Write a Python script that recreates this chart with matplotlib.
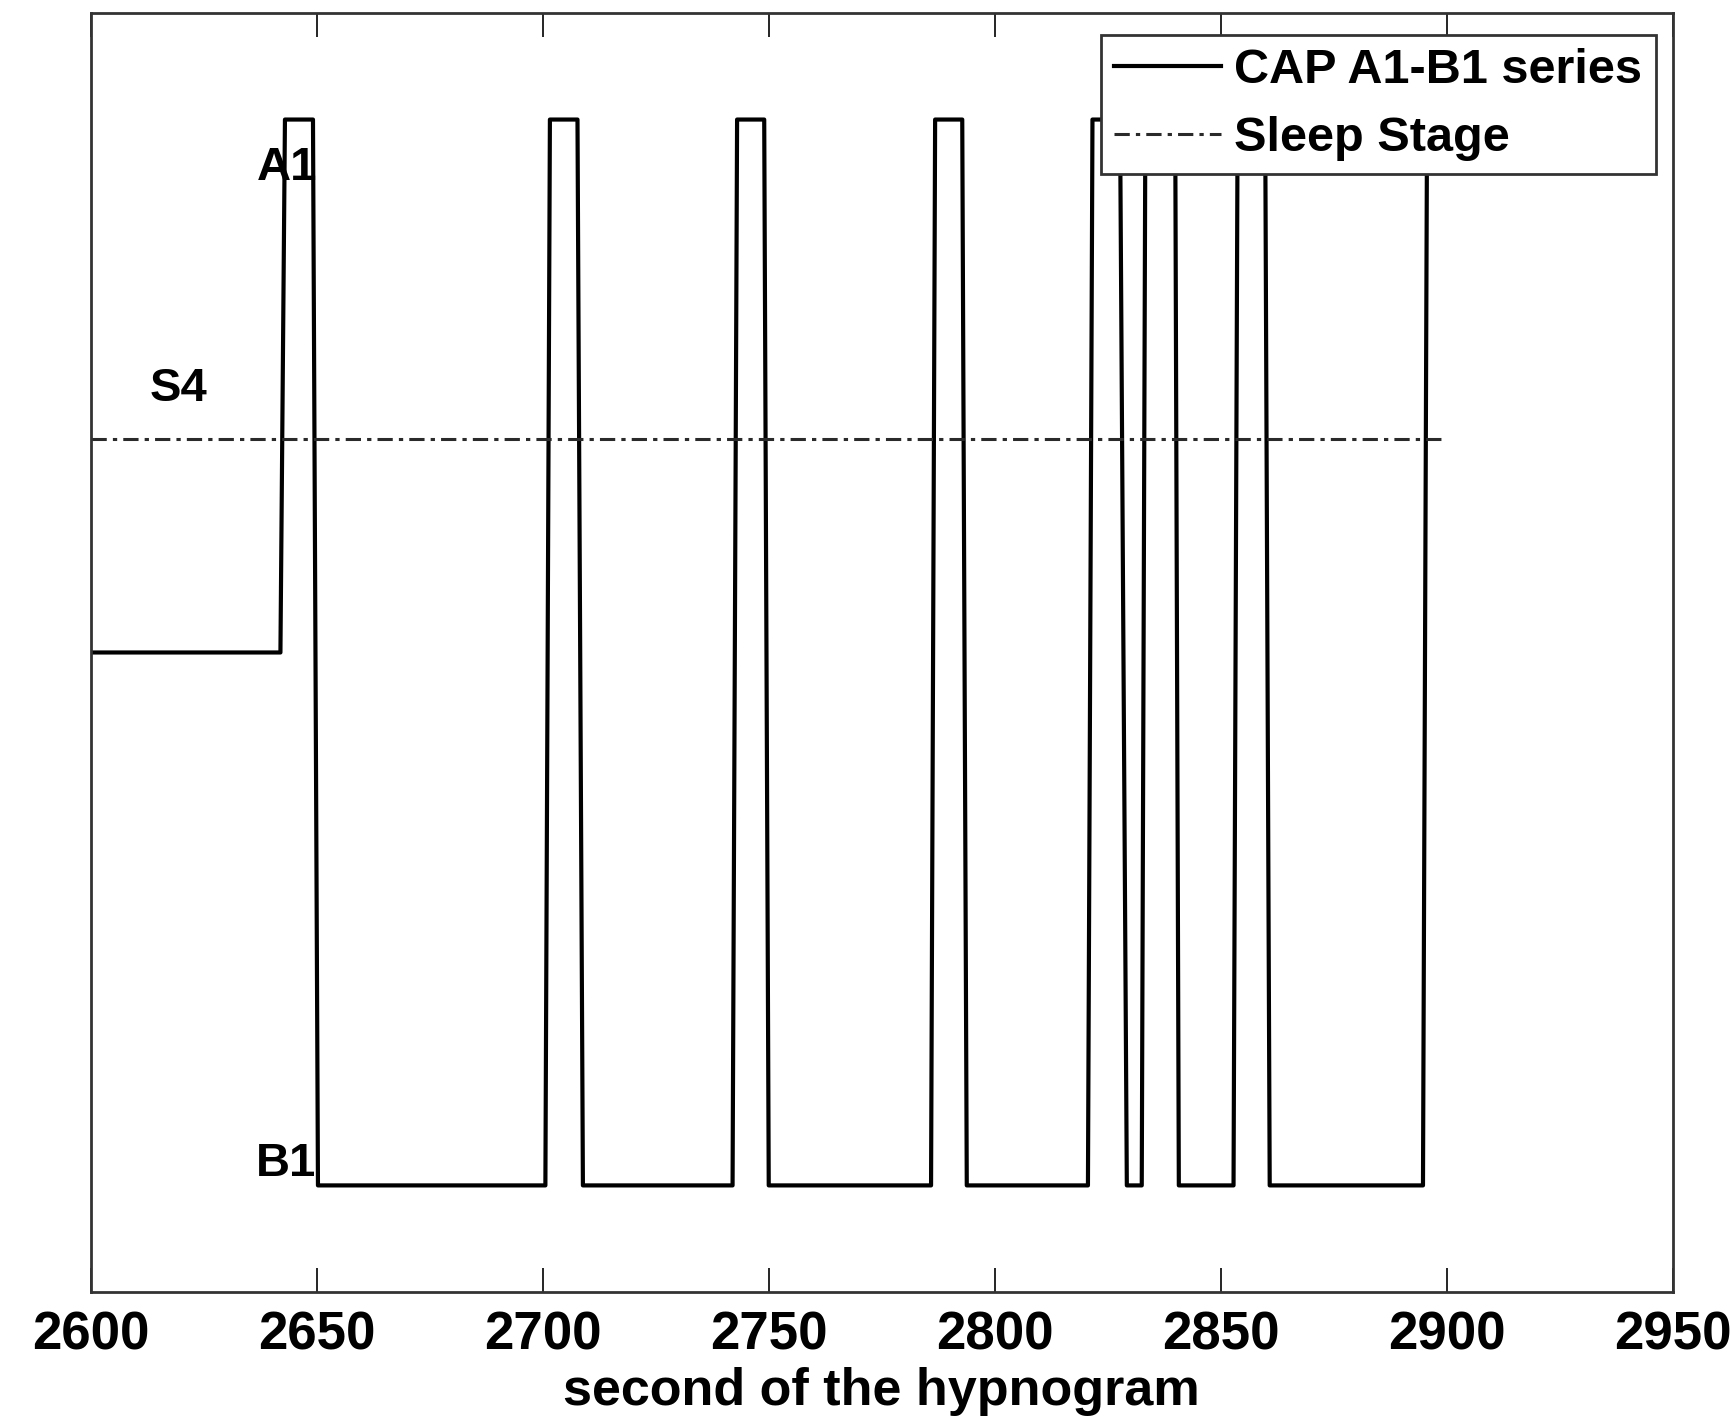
import matplotlib.pyplot as plt

# CAP A1-B1 series: (second, level) with B1 = 0, A1 = 1
cap_t = [2600, 2642, 2643, 2649.2, 2650.3,
         2700.6, 2701.6, 2707.7, 2708.9,
         2742.0, 2743.0, 2749.0, 2750.0,
         2785.9, 2786.8, 2792.8, 2793.8,
         2820.6, 2821.6, 2827.7, 2829.2,
         2832.5, 2833.3, 2839.9, 2840.7,
         2852.8, 2853.7, 2859.8, 2860.8,
         2894.7, 2895.6, 2900]
cap_y = [0.5, 0.5, 1, 1, 0,
         0, 1, 1, 0,
         0, 1, 1, 0,
         0, 1, 1, 0,
         0, 1, 1, 0,
         0, 1, 1, 0,
         0, 1, 1, 0,
         0, 1, 1]

stage_t = [2600, 2900]
stage_y = [0.7, 0.7]

xticks = [2600, 2650, 2700, 2750, 2800, 2850, 2900, 2950]

plt.rcParams['font.family'] = ['Liberation Sans', 'DejaVu Sans']
plt.rcParams['font.weight'] = 'bold'

fig = plt.figure(figsize=(17.31, 14.24), dpi=100)
ax = fig.add_axes([0.0523, 0.0927, 0.9142, 0.8982])

ax.plot(cap_t, cap_y, color='black', linewidth=3, label='CAP A1-B1 series')
ax.plot(stage_t, stage_y, color='#2a2a2a', linewidth=2.2, linestyle=(0, (5, 2, 1.4, 2)),
        label='Sleep Stage')

ax.text(2643.5, 0.955, 'A1', fontsize=34, fontweight='bold', ha='center', va='center')
ax.text(2643.2, 0.02, 'B1', fontsize=34, fontweight='bold', ha='center', va='center')
ax.text(2619.5, 0.747, 'S4', fontsize=34, fontweight='bold', ha='center', va='center')

ax.set_xlim(2600, 2950)
ax.set_ylim(-0.1, 1.1)
ax.set_xticks(xticks)
ax.set_yticks([])
ax.tick_params(axis='x', direction='in', length=17, width=1.2, top=True,
               labelsize=38, pad=13, colors='black')
for lbl in ax.get_xticklabels():
    lbl.set_fontweight('bold')
ax.set_xlabel('second of the hypnogram', fontsize=37.5, fontweight='bold', labelpad=5)

for spine in ax.spines.values():
    spine.set_linewidth(2)
    spine.set_color('#333333')

leg = ax.legend(loc='upper right', bbox_to_anchor=(0.989, 0.983), borderaxespad=0,
                fontsize=35, handlelength=2.2, handletextpad=0.27, fancybox=False,
                framealpha=1, borderpad=0.27, labelspacing=0.47)
leg.get_frame().set_edgecolor('#333333')
leg.get_frame().set_linewidth(2)

plt.savefig('out.png', dpi=100)
